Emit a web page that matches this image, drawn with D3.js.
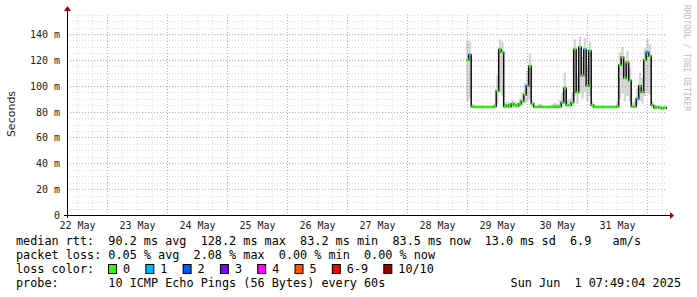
<!DOCTYPE html>
<html>
<head>
<meta charset="utf-8">
<script src="https://cdn.jsdelivr.net/npm/d3@7"></script>
<style>
  body { margin: 0; background: #fff; }
  text { white-space: pre; }
</style>
</head>
<body>
<script>
// hourly samples, first sample at 28 May 23:30 UTC
const startSample = Date.UTC(2025, 4, 28, 23, 30);
const median = [
  120, 124, 84, 83.5, 83.5, 83.5, 83.5, 83.5, 83.5, 83.5, 83.5, 84,
  96, 128, 126, 84, 85, 84, 86, 85, 84.5, 86, 88, 93,
  100, 115, 86, 83.5, 83.5, 84, 83.5, 83.5, 83.5, 83.5, 83.5, 84,
  83.5, 84, 87, 98, 85, 85, 87, 128, 95, 130, 108, 128,
  100, 127, 85, 83.5, 83.5, 83.5, 83.5, 83.5, 83.5, 83.5, 83.5, 83.5,
  84, 116, 122, 106, 118, 104, 84, 84, 90, 100, 95, 120,
  126, 123, 85, 83, 83.5, 83, 82.5, 83
];
const smokeHi = [
  135, 134, 86, 85, 85, 85, 85, 85, 85, 85, 85, 86,
  108, 136, 134, 87, 88, 87, 89, 88, 87, 90, 95, 102,
  112, 125, 89, 85, 85, 86, 85, 85, 85, 85, 86, 87,
  86, 89, 95, 110, 89, 90, 95, 136, 108, 138, 122, 137,
  115, 134, 88, 85, 85, 85, 85, 85, 85, 85, 85, 85,
  88, 126, 130, 118, 127, 114, 87, 88, 98, 110, 106, 129,
  136, 132, 88, 85, 85, 85, 84.5, 85
];
const smokeLo = [
  88, 90, 83, 83, 83, 83, 83, 83, 83, 83, 83, 83,
  86, 95, 92, 83, 83, 83, 83, 83, 83, 84, 85, 86,
  88, 90, 84, 83, 83, 83, 83, 83, 83, 83, 83, 83,
  83, 83, 84, 86, 83, 83, 84, 92, 86, 95, 90, 95,
  88, 92, 83, 83, 83, 83, 83, 83, 83, 83, 83, 83,
  83, 90, 94, 88, 92, 88, 83, 83, 85, 88, 86, 92,
  95, 93, 83, 82, 82, 82, 81.5, 82
];
const loss = [
  0, 1, 0, 0, 0, 0, 0, 0, 0, 0, 0, 0,
  0, 0, 0, 0, 0, 0, 0, 0, 0, 0, 0, 0,
  1, 0, 0, 0, 0, 0, 0, 0, 0, 0, 0, 0,
  0, 0, 0, 0, 0, 0, 0, 0, 0, 0, 0, 1,
  0, 0, 0, 0, 0, 0, 0, 0, 0, 0, 0, 0,
  0, 0, 0, 0, 0, 0, 0, 0, 1, 0, 0, 0,
  1, 0, 0, 0, 0, 0, 0, 0
];
const lossLabels = ['0', '1', '2', '3', '4', '5', '6-9', '10/10'];
const lossColors = ['#26ff00', '#00b8ff', '#0059ff', '#7e00ff', '#ff00ff', '#ff5500', '#ff0000', '#a10000'];
const yTicks = [0, 20, 40, 60, 80, 100, 120, 140];
const legendLines = [
  'median rtt:  90.2 ms avg  128.2 ms max  83.2 ms min  83.5 ms now  13.0 ms sd  6.9   am/s',
  'packet loss: 0.05 % avg  2.08 % max  0.00 % min  0.00 % now',
  'loss color:',
  'probe:       10 ICMP Echo Pings (56 Bytes) every 60s'
];
const stamp = 'Sun Jun  1 07:49:04 2025';

const W = 697, H = 297;
const pLeft = 67, pRight = 667, pTop = 14, pBottom = 215;
const tEnd = Date.UTC(2025, 5, 1, 7, 49, 4);
const tStart = tEnd - 10 * 864e5;
const hour = 36e5;
const mono = 'DejaVu Sans Mono';
const minorCol = 'rgba(150,150,150,0.32)';
const majorCol = 'rgba(230,60,60,0.4)';

const data = median.map((m, i) => ({
  t: new Date(startSample + i * hour),
  t2: new Date(startSample + (i + 1) * hour),
  m: m, hi: smokeHi[i], lo: smokeLo[i], loss: loss[i]
}));

const x = d3.scaleUtc().domain([tStart, tEnd]).range([pLeft, pRight]);
const y = d3.scaleLinear().domain([0, 155.5]).range([pBottom, pTop]);

const svg = d3.select('body').append('svg')
  .attr('width', W).attr('height', H);
svg.append('rect').attr('width', W).attr('height', H).attr('fill', '#fff');

// minor grid
const g = svg.append('g');
g.selectAll('.vmin')
  .data(d3.utcHour.every(6).range(new Date(tStart), new Date(tEnd)))
  .enter().append('line')
  .attr('x1', d => Math.round(x(d)) + 0.5).attr('x2', d => Math.round(x(d)) + 0.5)
  .attr('y1', pTop).attr('y2', pBottom)
  .attr('stroke', minorCol).attr('stroke-dasharray', '1,2');
g.selectAll('.hmin')
  .data(d3.range(5, 156, 5))
  .enter().append('line')
  .attr('x1', pLeft).attr('x2', pRight)
  .attr('y1', d => Math.round(y(d)) + 0.5).attr('y2', d => Math.round(y(d)) + 0.5)
  .attr('stroke', minorCol).attr('stroke-dasharray', '1,2');
// major grid
g.selectAll('.vmaj')
  .data(d3.utcDay.range(new Date(tStart), new Date(tEnd)))
  .enter().append('line')
  .attr('x1', d => Math.round(x(d)) + 0.5).attr('x2', d => Math.round(x(d)) + 0.5)
  .attr('y1', pTop).attr('y2', pBottom)
  .attr('stroke', majorCol).attr('stroke-dasharray', '1,2');
g.selectAll('.hmaj')
  .data(yTicks.slice(1))
  .enter().append('line')
  .attr('x1', pLeft).attr('x2', pRight)
  .attr('y1', d => Math.round(y(d)) + 0.5).attr('y2', d => Math.round(y(d)) + 0.5)
  .attr('stroke', majorCol).attr('stroke-dasharray', '1,2');

// smoke
const smoke = d3.area()
  .x(d => x(d.t))
  .y0(d => y(d.lo))
  .y1(d => y(d.hi))
  .curve(d3.curveStepAfter);
svg.append('path')
  .datum(data.concat([{ t: new Date(tEnd), lo: smokeLo[smokeLo.length - 1], hi: smokeHi[smokeHi.length - 1] }]))
  .attr('d', smoke)
  .attr('fill', 'rgba(110,110,110,0.28)');

// median line
const line = d3.line()
  .x(d => x(d.t))
  .y(d => y(d.m))
  .curve(d3.curveStepAfter);
svg.append('path')
  .datum(data.concat([{ t: new Date(tEnd), m: median[median.length - 1] }]))
  .attr('d', line)
  .attr('fill', 'none')
  .attr('stroke', '#111')
  .attr('stroke-width', 1.5);

// loss coloured median caps
svg.append('g').selectAll('line')
  .data(data)
  .enter().append('line')
  .attr('x1', d => x(d.t))
  .attr('x2', d => Math.min(x(d.t2), x(tEnd)))
  .attr('y1', d => y(d.m))
  .attr('y2', d => y(d.m))
  .attr('stroke', d => lossColors[d.loss])
  .attr('stroke-width', 2.2);

// axes
svg.append('line')
  .attr('x1', pLeft - 3).attr('x2', pRight + 3)
  .attr('y1', pBottom + 0.5).attr('y2', pBottom + 0.5)
  .attr('stroke', '#000');
svg.append('line')
  .attr('x1', pLeft + 0.5).attr('x2', pLeft + 0.5)
  .attr('y1', pBottom + 3).attr('y2', pTop - 3)
  .attr('stroke', '#000');
svg.append('path')
  .attr('d', `M${pRight + 3},${pBottom - 3} L${pRight + 7},${pBottom + 0.5} L${pRight + 3},${pBottom + 4} Z`)
  .attr('fill', '#a00000');
svg.append('path')
  .attr('d', `M${pLeft - 3},${pTop - 3} L${pLeft + 0.5},${pTop - 8} L${pLeft + 4},${pTop - 3} Z`)
  .attr('fill', '#a00000');

// y labels
svg.append('g').selectAll('text')
  .data(yTicks)
  .enter().append('text')
  .attr('x', 60)
  .attr('y', d => y(d) + 4)
  .attr('text-anchor', 'end')
  .attr('font-family', mono)
  .attr('font-size', 10)
  .attr('fill', '#222')
  .text(d => d === 0 ? '0' : d + ' m');

svg.append('text')
  .attr('transform', 'translate(15,114) rotate(-90)')
  .attr('text-anchor', 'middle')
  .attr('font-family', 'DejaVu Sans')
  .attr('font-size', 11)
  .attr('fill', '#222')
  .text('Seconds');

// x labels at midday
const fmt = d3.utcFormat('%d %b');
svg.append('g').selectAll('text')
  .data(d3.utcDay.range(new Date(tStart - 864e5), new Date(tEnd)).map(d => new Date(+d + 12 * hour))
    .filter(d => x(d) > pLeft && x(d) < pRight))
  .enter().append('text')
  .attr('x', d => x(d))
  .attr('y', 229)
  .attr('text-anchor', 'middle')
  .attr('font-family', mono)
  .attr('font-size', 10)
  .attr('fill', '#222')
  .text(d => fmt(d));

// watermark
svg.append('text')
  .attr('transform', 'translate(684,5) rotate(90)')
  .attr('font-family', mono)
  .attr('font-size', 8)
  .attr('fill', '#bbb')
  .text('RRDTOOL / TOBI OETIKER');

// legend
const lineY = [245, 259, 273, 287];
svg.append('g').selectAll('text')
  .data(legendLines)
  .enter().append('text')
  .attr('x', 16)
  .attr('y', (d, i) => lineY[i])
  .attr('font-family', mono)
  .attr('font-size', 11.8)
  .attr('fill', '#000')
  .text(d => d);

svg.append('text')
  .attr('x', 681)
  .attr('y', lineY[3])
  .attr('text-anchor', 'end')
  .attr('font-family', mono)
  .attr('font-size', 11.8)
  .attr('fill', '#000')
  .text(stamp);

const cw = 7.1;
let lx = 108;
const sw = svg.append('g');
lossLabels.forEach((lab, i) => {
  sw.append('rect')
    .attr('x', lx + 0.5).attr('y', 264.5)
    .attr('width', 8).attr('height', 9)
    .attr('fill', lossColors[i])
    .attr('stroke', '#000');
  sw.append('text')
    .attr('x', lx + 15)
    .attr('y', lineY[2])
    .attr('font-family', mono)
    .attr('font-size', 11.8)
    .text(lab);
  lx += 15 + lab.length * cw + 15.2;
});
</script>
</body>
</html>
